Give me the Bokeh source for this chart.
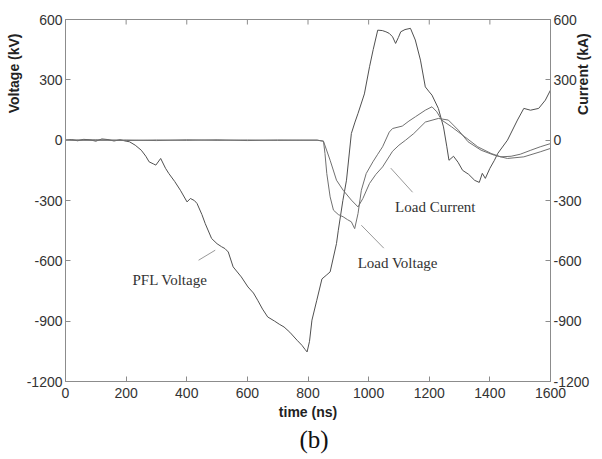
from math import pi
from bokeh.plotting import figure
from bokeh.models import LinearAxis, Range1d, FixedTicker, Label, Title
from bokeh.embed import file_html
from bokeh.resources import INLINE

# ---- data ----
time_ticks = [0, 200, 400, 600, 800, 1000, 1200, 1400, 1600]
value_ticks = [-1200, -900, -600, -300, 0, 300, 600]

pfl_t = [0, 20, 40, 60, 80, 100, 120, 140, 160, 180, 200, 211, 230, 250, 265, 276, 290, 298,
         314, 330, 341, 360, 379, 401, 412, 425, 434, 450, 461, 482, 500, 515, 526, 537, 553,
         580, 602, 620, 634, 650, 667, 690, 705, 721, 740, 764, 780, 790, 797, 805, 813, 829,
         846, 860, 873, 894, 900, 915, 927, 943, 955, 965, 986, 1003, 1015, 1030, 1045, 1057,
         1068, 1079, 1089, 1098, 1106, 1120, 1138, 1154, 1171, 1187, 1200, 1209, 1230, 1247,
         1258, 1265, 1280, 1295, 1310, 1330, 1350, 1365, 1375, 1385, 1400, 1415, 1426, 1458,
         1491, 1512, 1534, 1561, 1583, 1600]
pfl_v = [0, 3, -3, 4, 2, -5, 6, 3, -4, 2, -5, -8, -25, -50, -80, -108, -118, -124,
         -91, -140, -166, -205, -249, -307, -290, -300, -315, -370, -415, -489, -515, -530, -539, -556, -630,
         -680, -730, -760, -796, -840, -879, -900, -915, -929, -955, -995, -1020, -1040, -1053, -1000, -895, -796,
         -690, -672, -655, -514, -448, -300, -199, 33, 90, 133, 230, 365, 450, 547, 545, 539,
         531, 514, 481, 510, 539, 550, 556, 498, 398, 265, 240, 224, 158, 66,
         -33, -100, -80, -110, -150, -170, -200, -210, -165, -190, -140, -100, -66, 0,
         100, 158, 149, 158, 199, 249]

lv_t = [0, 100, 200, 300, 400, 500, 600, 700, 800, 830, 851, 856, 862, 873, 884, 900, 916, 930,
        943, 954, 965, 976, 992, 1014, 1030, 1046, 1068, 1079, 1111, 1133, 1154, 1187, 1209,
        1225, 1241, 1274, 1317, 1360, 1404, 1436, 1470, 1500, 1535, 1566, 1600]
lv_v = [0, 2, -2, 1, -1, 2, -2, 1, 0, 0, -5, -66, -166, -282, -348, -370, -381, -395,
        -406, -440, -365, -249, -166, -108, -70, -33, 40, 58, 70, 95, 116, 149, 166,
        141, 100, 66, 17, -33, -66, -83, -80, -70, -50, -33, -17]

lc_t = [0, 100, 200, 300, 400, 500, 600, 700, 800, 830, 851, 873, 894, 916, 943, 965, 981,
        1003, 1024, 1046, 1079, 1100, 1122, 1149, 1187, 1230, 1263, 1296, 1328, 1371, 1415,
        1458, 1512, 1566, 1600]
lc_i = [0, -1, 1, -2, 2, -1, 1, -1, 0, 0, -5, -100, -199, -249, -298, -332, -290,
        -215, -170, -133, -55, -25, 0, 33, 90, 108, 100, 50, -8, -50, -75,
        -91, -83, -58, -41]

# ---- figure ----
FONT = "Liberation Sans"
SERIF = "Liberation Serif"
AX = "#8c8c8c"

p = figure(width=602, height=459, output_backend="svg", toolbar_location=None,
           x_range=Range1d(0, 1600), y_range=Range1d(-1200, 600),
           min_border_left=65, min_border_right=50, min_border_top=19, min_border_bottom=78,
           x_axis_location=None, y_axis_location=None)
p.grid.visible = False
p.outline_line_color = AX
p.background_fill_color = "white"
p.border_fill_color = "white"
p.extra_y_ranges = {"cur": Range1d(-1200, 600)}

value_labels = {v: str(v) for v in value_ticks}   # plain hyphen, as in the original


def style(ax):
    ax.major_tick_in = 5
    ax.major_tick_out = 0
    ax.minor_tick_line_color = None
    ax.axis_line_color = AX
    ax.major_tick_line_color = AX
    ax.major_label_text_font = FONT
    ax.major_label_text_font_size = "14px"
    ax.major_label_text_color = "#333333"
    ax.major_label_standoff = 3
    ax.axis_label_text_font = FONT
    ax.axis_label_text_font_style = "bold"
    ax.axis_label_text_font_size = "14px"
    ax.axis_label_text_color = "#222222"


xb = LinearAxis(ticker=FixedTicker(ticks=time_ticks), axis_label="time (ns)")
style(xb)
xb.major_label_standoff = 6
xb.axis_label_standoff = 3
p.add_layout(xb, "below")

yl = LinearAxis(ticker=FixedTicker(ticks=value_ticks), major_label_overrides=value_labels)
style(yl)
p.add_layout(yl, "left")
p.add_layout(Title(text="Voltage (kV)", align="right", offset=14, standoff=4,
                   text_font=FONT, text_font_size="14px", text_font_style="bold",
                   text_color="#222222"), "left")

yr = LinearAxis(ticker=FixedTicker(ticks=value_ticks), y_range_name="cur",
                axis_label="\u00a0" * 22 + "Current (kA)", major_label_overrides=value_labels)
style(yr)
yr.axis_label_standoff = -9
yr.axis_label_orientation = pi / 2
p.add_layout(yr, "right")

p.add_layout(Title(text="(b)", align="left", offset=234, text_font=SERIF, text_font_size="25px",
                   text_font_style="normal", text_color="#111111", standoff=2), "below")

# top-edge tick marks (inward), at the time tick positions
p.segment(x0=time_ticks, y0=[600] * len(time_ticks), x1=time_ticks, y1=[575] * len(time_ticks),
          line_color=AX, line_width=1)

# ---- traces ----
p.line(pfl_t, pfl_v, line_color="#505050", line_width=1)
p.line(lv_t, lv_v, line_color="#707070", line_width=1)
p.line(lc_t, lc_i, line_color="#707070", line_width=1, y_range_name="cur")

# ---- annotations ----
p.segment(x0=[439, 976, 1073], y0=[-597, -423, -139], x1=[494, 1050, 1145], y1=[-547, -537, -259],
          line_color="#999999", line_width=1)
for txt, x, y in [("PFL Voltage", 345, -697), ("Load Voltage", 1096, -612), ("Load Current", 1220, -333)]:
    p.add_layout(Label(x=x, y=y, text=txt, text_align="center", text_baseline="middle",
                       text_font=SERIF, text_font_size="15px", text_color="#333333"))

open("out.html", "w").write(file_html(p, INLINE))
